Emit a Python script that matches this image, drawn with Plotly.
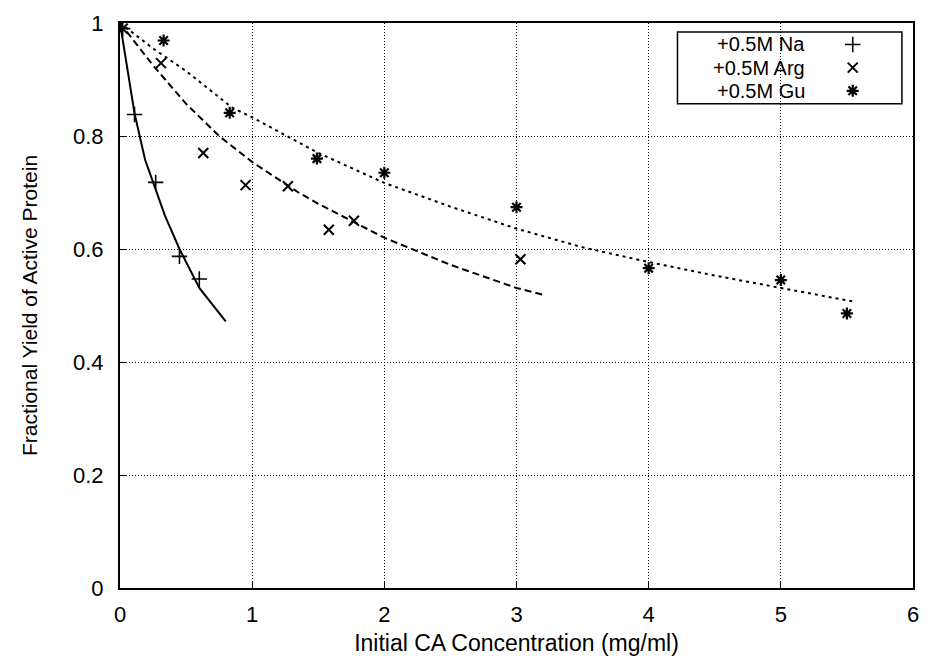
import plotly.graph_objects as go

# ---- data ----
na_x = [0.02, 0.11, 0.27, 0.45, 0.60]
na_y = [0.99, 0.838, 0.718, 0.587, 0.547]
arg_x = [0.02, 0.31, 0.63, 0.95, 1.27, 1.58, 1.77, 3.03]
arg_y = [0.99, 0.929, 0.770, 0.713, 0.711, 0.634, 0.650, 0.582]
gu_x = [0.33, 0.83, 1.49, 2.0, 3.0, 4.0, 5.0, 5.5]
gu_y = [0.969, 0.841, 0.760, 0.735, 0.674, 0.566, 0.545, 0.486]

na_fit_x = [0.0, 0.11, 0.19, 0.34, 0.45, 0.60, 0.80]
na_fit_y = [1.0, 0.84, 0.758, 0.659, 0.600, 0.531, 0.472]
arg_fit_x = [0.0, 0.25, 0.5, 0.75, 1.0, 1.35, 1.5, 2.0, 2.5, 3.0, 3.2]
arg_fit_y = [1.0, 0.925, 0.857, 0.80, 0.754, 0.70, 0.68, 0.62, 0.572, 0.531, 0.519]
gu_fit_x = [0.0, 0.25, 0.5, 0.85, 1.0, 1.5, 2.0, 2.5, 3.0, 3.5, 4.0, 4.5, 5.0, 5.55]
gu_fit_y = [1.0, 0.955, 0.915, 0.85, 0.833, 0.77, 0.717, 0.675, 0.636, 0.603, 0.577, 0.553, 0.531, 0.507]

legend_labels = ["+0.5M Na", "+0.5M Arg", "+0.5M Gu"]
x_ticks = [0, 1, 2, 3, 4, 5, 6]
y_ticks = [0, 0.2, 0.4, 0.6, 0.8, 1]
y_tick_text = ["0", "0.2", "0.4", "0.6", "0.8", "1"]

FONT = "Liberation Sans, Arial, sans-serif"
K = "black"

fig = go.Figure()

# fitted curves
fig.add_trace(go.Scatter(x=na_fit_x, y=na_fit_y, mode="lines",
                         line=dict(color=K, width=2), showlegend=False))
fig.add_trace(go.Scatter(x=arg_fit_x, y=arg_fit_y, mode="lines",
                         line=dict(color=K, width=2, dash="7px,4px"), showlegend=False))
fig.add_trace(go.Scatter(x=gu_fit_x, y=gu_fit_y, mode="lines",
                         line=dict(color=K, width=2, dash="3px,4px"), showlegend=False))

mk = dict(
    na=dict(symbol="cross-thin-open", size=11, color=K, line=dict(color=K, width=1.6)),
    arg=dict(symbol="x-thin-open", size=10, color=K, line=dict(color=K, width=2)),
    gu=dict(symbol="asterisk-open", size=10, color=K, line=dict(color=K, width=2.2)),
)

fig.add_trace(go.Scatter(x=na_x, y=na_y, mode="markers", marker=mk["na"], showlegend=False))
fig.add_trace(go.Scatter(x=arg_x, y=arg_y, mode="markers", marker=mk["arg"], showlegend=False))
fig.add_trace(go.Scatter(x=gu_x, y=gu_y, mode="markers", marker=mk["gu"], showlegend=False))

# manual gnuplot-style legend (text left, symbol right) on an overlay axis
leg_y = [0.962, 0.921, 0.880]
for lab, key, yy in zip(legend_labels, ["na", "arg", "gu"], leg_y):
    fig.add_trace(go.Scatter(x=[0.924], y=[yy], mode="markers", marker=mk[key],
                             xaxis="x2", yaxis="y2", showlegend=False, hoverinfo="skip"))
    fig.add_annotation(x=0.866, y=yy, xref="x2", yref="y2", text=lab, showarrow=False,
                       xanchor="right", yanchor="middle",
                       font=dict(family=FONT, size=20, color=K))
fig.add_shape(type="rect", xref="x2", yref="y2", x0=0.703, x1=0.986, y0=0.857, y1=0.984,
              line=dict(color=K, width=1.5), fillcolor="white", layer="below")

fig.update_layout(
    width=930, height=667,
    margin=dict(l=120, r=11, t=14, b=79),
    paper_bgcolor="white", plot_bgcolor="white",
    font=dict(family=FONT, size=21, color=K),
    xaxis=dict(range=[0, 6], tickvals=x_ticks, ticks="inside", ticklen=6, tickcolor=K,
               ticklabelstandoff=6,
               tickfont=dict(family=FONT, size=22, color=K),
               showline=True, linecolor=K, linewidth=2, mirror=True,
               showgrid=True, gridcolor=K, gridwidth=1, griddash="1px,2px", zeroline=False,
               title=dict(text="Initial CA Concentration (mg/ml)", standoff=8,
                          font=dict(family=FONT, size=23, color=K))),
    yaxis=dict(range=[0, 1], tickvals=y_ticks, ticktext=y_tick_text, ticks="inside",
               ticklen=6, tickcolor=K, ticklabelstandoff=10,
               tickfont=dict(family=FONT, size=22, color=K),
               showline=True, linecolor=K, linewidth=2, mirror=True,
               showgrid=True, gridcolor=K, gridwidth=1, griddash="1px,2px", zeroline=False,
               title=dict(text="Fractional Yield of Active Protein", standoff=30,
                          font=dict(family=FONT, size=21, color=K))),
    xaxis2=dict(range=[0, 1], overlaying="x", visible=False, fixedrange=True),
    yaxis2=dict(range=[0, 1], overlaying="y", visible=False, fixedrange=True),
)

fig.write_html("out.html")
